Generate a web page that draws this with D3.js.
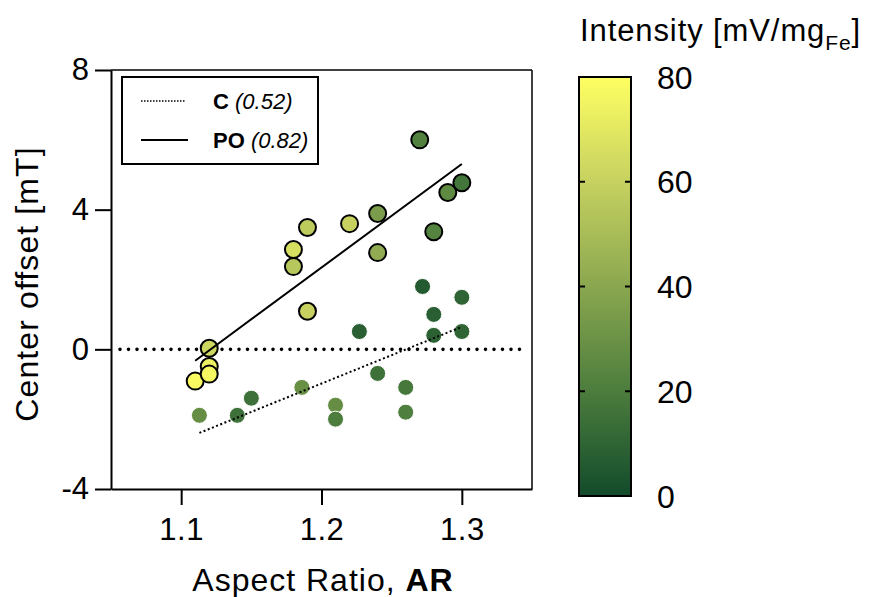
<!DOCTYPE html>
<html><head><meta charset="utf-8">
<script src="https://cdn.jsdelivr.net/npm/d3@7"></script>
<style>body{margin:0;background:#fff}svg{display:block;font-family:"Liberation Sans",Arial,sans-serif}</style>
</head><body>
<script>
// ---- data ----
const poAR        = [1.12, 1.12, 1.11, 1.12, 1.18, 1.18, 1.19, 1.19, 1.22, 1.24, 1.24, 1.27, 1.28, 1.29, 1.30];
const poOffset    = [0.03, -0.49, -0.91, -0.71, 2.86, 2.37, 1.09, 3.49, 3.60, 3.89, 2.77, 6.00, 3.37, 4.49, 4.77];
const poIntensity = [62, 74, 78, 77, 66, 55, 60, 57, 60, 35, 42, 22, 23, 26, 17];
const cAR         = [1.113, 1.14, 1.15, 1.186, 1.21, 1.21, 1.227, 1.24, 1.26, 1.26, 1.272, 1.28, 1.28, 1.30, 1.30];
const cOffset     = [-1.89, -1.89, -1.40, -1.09, -1.60, -2.00, 0.51, -0.69, -1.09, -1.80, 1.80, 1.00, 0.40, 1.49, 0.51];
const cIntensity  = [28, 15, 15, 29, 28, 20, 8, 15, 18, 21, 6, 8, 9, 10, 10];
const xTicks = [1.1, 1.2, 1.3];
const yTicks = [-4, 0, 4, 8];
const cbTicks = [0, 20, 40, 60, 80];
const legendNames = ["C", "PO"];
const legendR2 = ["(0.52)", "(0.82)"];
const cbStops = [0, 20, 40, 60, 80];
const cbColors = ["#124b2b", "#4c7d3d", "#8aa74f", "#c6d160", "#ffff62"];

// ---- scales ----
const W = 872, H = 597;
const x = d3.scaleLinear().domain([1.05, 1.35]).range([111, 532]);
const y = d3.scaleLinear().domain([-4, 8]).range([489, 70]);
const col = d3.scaleLinear().domain(cbStops).range(cbColors);
const cy = d3.scaleLinear().domain([0, 80]).range([496, 77]);

const svg = d3.select("body").append("svg").attr("width", W).attr("height", H);

function fit(xs, ys) {
  const mx = d3.mean(xs), my = d3.mean(ys);
  let sxy = 0, sxx = 0;
  xs.forEach((v, i) => { sxy += (v - mx) * (ys[i] - my); sxx += (v - mx) * (v - mx); });
  const b = sxy / sxx, a = my - b * mx;
  const [x0, x1] = d3.extent(xs);
  return [[x0, a + b * x0], [x1, a + b * x1]];
}

// frame top/right
svg.append("line").attr("x1", x(1.05)).attr("x2", x(1.35)).attr("y1", y(8)).attr("y2", y(8)).attr("stroke", "#000").attr("stroke-width", 1.5);
svg.append("line").attr("x1", x(1.35)).attr("x2", x(1.35)).attr("y1", y(8)).attr("y2", y(-4)).attr("stroke", "#000").attr("stroke-width", 1.5);

// axes
const hy = d => (d < 0 ? "-" + Math.abs(d) : String(d));
const xAxis = svg.append("g").attr("transform", `translate(0,${y(-4)})`)
  .call(d3.axisBottom(x).tickValues(xTicks).tickSize(16).tickPadding(13).tickFormat(d3.format(".1f")).tickSizeOuter(0));
const yAxis = svg.append("g").attr("transform", `translate(${x(1.05)},0)`)
  .call(d3.axisLeft(y).tickValues(yTicks).tickSize(16).tickPadding(6).tickFormat(hy).tickSizeOuter(0));
[xAxis, yAxis].forEach(g => {
  g.select(".domain").attr("stroke-width", 2);
  g.selectAll(".tick line").attr("stroke-width", 2);
  g.selectAll(".tick text").attr("font-size", 31).attr("fill", "#000").attr("font-family", "Liberation Sans, Arial, sans-serif");
});
xAxis.selectAll(".tick text").attr("letter-spacing", 0.5);

// zero line
svg.append("line").attr("x1", x(1.05) + 9).attr("x2", x(1.35) - 4).attr("y1", y(0)).attr("y2", y(0))
  .attr("stroke", "#000").attr("stroke-width", 3.6).attr("stroke-linecap", "round").attr("stroke-dasharray", "0,8.5");

// C points
const cData = cAR.map((v, i) => ({ x: v, y: cOffset[i], c: cIntensity[i] }));
svg.append("g").selectAll("circle").data(cData).join("circle")
  .attr("cx", d => x(d.x)).attr("cy", d => y(d.y)).attr("r", 8)
  .attr("fill", d => col(d.c)).attr("stroke", "#fff").attr("stroke-width", 1);

// PO points
const poData = poAR.map((v, i) => ({ x: v, y: poOffset[i], c: poIntensity[i] }));
svg.append("g").selectAll("circle").data(poData).join("circle")
  .attr("cx", d => x(d.x)).attr("cy", d => y(d.y)).attr("r", 8.5)
  .attr("fill", d => col(d.c)).attr("stroke", "#000").attr("stroke-width", 2);

// regression lines
const line = d3.line().x(d => x(d[0])).y(d => y(d[1]));
svg.append("path").attr("d", line(fit(cAR, cOffset))).attr("fill", "none").attr("stroke", "#000")
  .attr("stroke-width", 2).attr("stroke-dasharray", "2,2.5");
svg.append("path").attr("d", line(fit(poAR, poOffset))).attr("fill", "none").attr("stroke", "#000")
  .attr("stroke-width", 2);

// legend
const lg = svg.append("g");
lg.append("rect").attr("x", 122).attr("y", 77).attr("width", 196).attr("height", 87)
  .attr("fill", "#fff").attr("stroke", "#000").attr("stroke-width", 2);
legendNames.forEach((n, i) => {
  const yy = 101 + i * 39;
  lg.append("line").attr("x1", 141).attr("x2", i ? 188 : 185).attr("y1", yy).attr("y2", yy)
    .attr("stroke", "#000").attr("stroke-width", i ? 2 : 1.5).attr("stroke-dasharray", i ? null : "1.5,1.5");
  const t = lg.append("text").attr("x", 213).attr("y", yy + 8).attr("font-size", 22);
  t.append("tspan").attr("font-weight", "bold").text(n);
  t.append("tspan").attr("font-style", "italic").text(" " + legendR2[i]);
});

// axis titles
svg.append("text").attr("x", 323).attr("y", 591).attr("text-anchor", "middle").attr("font-size", 32)
  .attr("letter-spacing", 1)
  .call(t => { t.append("tspan").text("Aspect Ratio, "); t.append("tspan").attr("font-weight", "bold").text("AR"); });
svg.append("text").attr("transform", `translate(38,284) rotate(-90)`).attr("text-anchor", "middle")
  .attr("font-size", 32).attr("letter-spacing", 1.1).text("Center offset [mT]");

// colorbar
const defs = svg.append("defs");
const grad = defs.append("linearGradient").attr("id", "cb").attr("x1", 0).attr("x2", 0).attr("y1", 1).attr("y2", 0);
cbStops.forEach((s, i) => grad.append("stop").attr("offset", s / 80).attr("stop-color", cbColors[i]));
svg.append("rect").attr("x", 579).attr("y", cy(80)).attr("width", 52).attr("height", cy(0) - cy(80))
  .attr("fill", "url(#cb)").attr("stroke", "#000").attr("stroke-width", 2);
const cbg = svg.append("g");
cbTicks.forEach(v => {
  cbg.append("line").attr("x1", 579).attr("x2", 585).attr("y1", cy(v)).attr("y2", cy(v)).attr("stroke", "#000").attr("stroke-width", 2);
  cbg.append("line").attr("x1", 625).attr("x2", 631).attr("y1", cy(v)).attr("y2", cy(v)).attr("stroke", "#000").attr("stroke-width", 2);
  cbg.append("text").attr("x", 657).attr("y", cy(v)).attr("dy", "0.36em").attr("font-size", 32).text(v);
});
svg.append("text").attr("x", 580).attr("y", 41).attr("font-size", 31).attr("letter-spacing", 0.9)
  .call(t => {
    t.append("tspan").text("Intensity [mV/mg");
    t.append("tspan").attr("font-size", 21).attr("dy", 9).text("Fe");
    t.append("tspan").attr("dy", -9).text("]");
  });
</script>
</body></html>
